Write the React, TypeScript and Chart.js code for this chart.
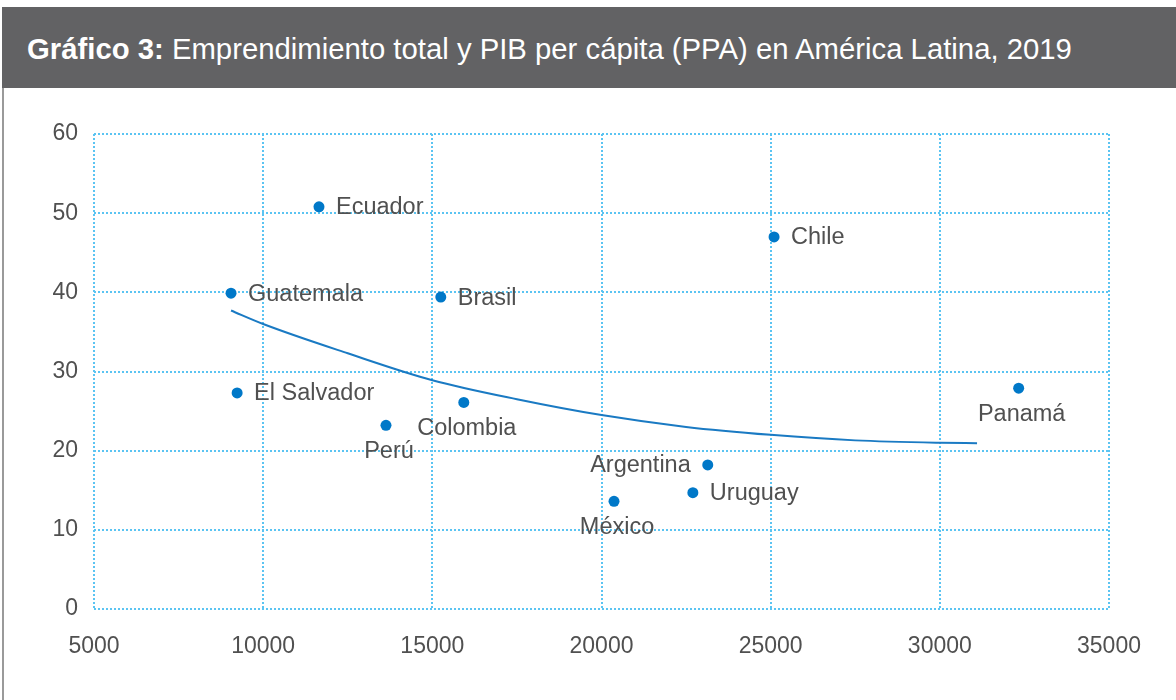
import React, { useEffect, useRef } from "react";
import { Chart, registerables } from "chart.js";

Chart.register(...registerables);

// ---- Data ----
const countries = ["Ecuador", "Chile", "Guatemala", "Brasil", "El Salvador", "Perú", "Colombia", "Panamá", "Argentina", "Uruguay", "México"];
const gdpPerCapita = [11650, 25100, 9050, 15250, 9230, 13630, 15930, 32330, 23140, 22700, 20370];
const entrepreneurship = [50.8, 47.0, 39.9, 39.4, 27.3, 23.2, 26.1, 27.9, 18.2, 14.7, 13.6];
const labelPositions = ["right", "right", "right", "right", "right", "below", "below", "below", "left", "right", "below"];

const trendX = [9050, 10000, 12500, 15000, 17500, 20000, 22500, 25000, 27500, 30000, 31100];
const trendY = [37.7, 36.0, 32.3, 28.9, 26.5, 24.5, 23.0, 22.0, 21.3, 21.0, 20.95];

const xTicks = [5000, 10000, 15000, 20000, 25000, 30000, 35000];
const yTicks = [0, 10, 20, 30, 40, 50, 60];

const TITLE_BOLD = "Gráfico 3:";
const TITLE_REST = " Emprendimiento total y PIB per cápita (PPA) en América Latina, 2019";

const FONT = "'Liberation Sans', Arial, sans-serif";
const TEXT_COLOR = "#505050";
const GRID_COLOR = "#5BC4F2";
const POINT_COLOR = "#0078C8";
const TREND_COLOR = "#1A7AC3";

const labelPlugin = {
  id: "pointLabels",
  afterDatasetsDraw(chart: any) {
    const meta = chart.getDatasetMeta(0);
    const ctx = chart.ctx;
    ctx.save();
    ctx.font = `23.5px ${FONT}`;
    ctx.fillStyle = TEXT_COLOR;
    meta.data.forEach((el: any, i: number) => {
      const pos = labelPositions[i];
      const text = countries[i];
      if (pos === "right") {
        ctx.textAlign = "left";
        ctx.textBaseline = "middle";
        ctx.fillText(text, el.x + 17, el.y + 1);
      } else if (pos === "left") {
        ctx.textAlign = "right";
        ctx.textBaseline = "middle";
        ctx.fillText(text, el.x - 17, el.y + 1);
      } else {
        ctx.textAlign = "center";
        ctx.textBaseline = "middle";
        ctx.fillText(text, el.x + 3, el.y + 26);
      }
    });
    ctx.restore();
  },
};

function ChartCanvas() {
  const ref = useRef<HTMLCanvasElement | null>(null);
  useEffect(() => {
    if (!ref.current) return;
    const chart = new Chart(ref.current, {
      type: "scatter",
      data: {
        datasets: [
          {
            label: "Países",
            data: gdpPerCapita.map((x, i) => ({ x, y: entrepreneurship[i] })),
            backgroundColor: POINT_COLOR,
            borderColor: POINT_COLOR,
            pointRadius: 5.5,
            pointHoverRadius: 5.5,
            borderWidth: 0,
          },
          {
            label: "Tendencia",
            data: trendX.map((x, i) => ({ x, y: trendY[i] })),
            showLine: true,
            borderColor: TREND_COLOR,
            borderWidth: 2,
            pointRadius: 0,
            cubicInterpolationMode: "monotone",
            fill: false,
          } as any,
        ],
      },
      options: {
        responsive: false,
        animation: false,
        devicePixelRatio: 1,
        layout: { padding: { top: 45, right: 67, left: 0, bottom: 0 } },
        plugins: { legend: { display: false }, tooltip: { enabled: false }, title: { display: false } },
        scales: {
          x: {
            type: "linear",
            min: xTicks[0],
            max: xTicks[xTicks.length - 1],
            afterBuildTicks: (s: any) => { s.ticks = xTicks.map((v) => ({ value: v })); },
            afterFit: (s: any) => { s.height = 92; },
            ticks: {
              color: TEXT_COLOR,
              font: { family: FONT, size: 23 },
              padding: 24,
              maxRotation: 0,
              callback: (v: any) => String(v),
            },
            grid: { color: GRID_COLOR, lineWidth: 2, drawTicks: false },
            border: { display: false, dash: [2, 2] },
          },
          y: {
            type: "linear",
            min: yTicks[0],
            max: yTicks[yTicks.length - 1],
            afterBuildTicks: (s: any) => { s.ticks = yTicks.map((v) => ({ value: v })); },
            afterFit: (s: any) => { s.width = 94; },
            ticks: {
              color: TEXT_COLOR,
              font: { family: FONT, size: 23 },
              padding: 16,
              callback: (v: any) => String(v),
            },
            grid: { color: GRID_COLOR, lineWidth: 2, drawTicks: false },
            border: { display: false, dash: [2, 2] },
          },
        },
      },
      plugins: [labelPlugin],
    });
    return () => chart.destroy();
  }, []);
  return (
    <canvas
      ref={ref}
      width={1176}
      height={612}
      style={{ position: "absolute", left: 0, top: 89, width: 1176, height: 612, display: "block" }}
    />
  );
}

export default function App() {
  return (
    <div style={{ position: "absolute", left: 0, top: 0, width: 1176, height: 700, background: "#fff", overflow: "hidden" }}>
      <div
        style={{
          position: "absolute",
          left: 2,
          top: 7,
          width: 1174,
          height: 81,
          background: "#626264",
          color: "#fff",
          fontFamily: FONT,
          fontSize: 29.3,
          lineHeight: "83px",
          paddingLeft: 25,
          boxSizing: "border-box",
          whiteSpace: "nowrap",
        }}
      >
        <b>{TITLE_BOLD}</b>
        <span>{TITLE_REST}</span>
      </div>
      <div style={{ position: "absolute", left: 2, top: 88, width: 2, height: 612, background: "#9a9a9a" }} />
      <ChartCanvas />
    </div>
  );
}
